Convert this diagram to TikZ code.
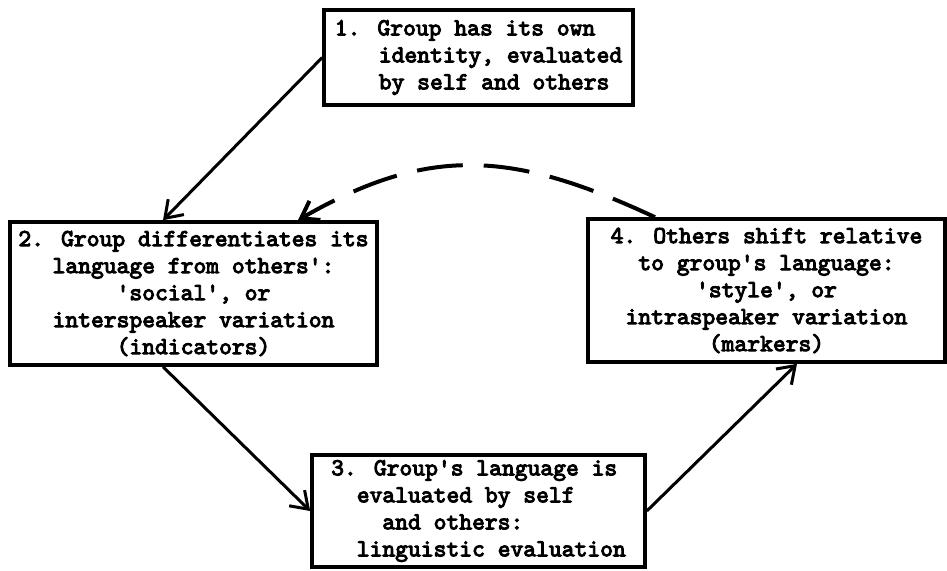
\documentclass[tikz,border=0pt]{standalone}
\usepackage{fontspec}
\usepackage{tikz}
\usetikzlibrary{arrows.meta}
\newfontfamily\typer{lmmono10-regular.otf}[FakeBold=4]
\tikzstyle{card} = [draw,line width=1.8pt,inner sep=0pt,font=\typer\fontsize{12.2}{13.5}\selectfont]
\tikzstyle{feedback} = [line width=2pt,dash pattern=on 23pt off 10.5pt]

\begin{document}
\begin{tikzpicture}[->,>={Straight Barb[length=8pt,width=11pt]},line width=1.5pt,x=1pt,y=1pt]
\useasboundingbox (0,0) rectangle (473.5,285);

\node[card,minimum width=154.5pt,minimum height=47.5pt,align=left] (G1) at (239.25,256.25)
  {1. Group has its own\\ \hspace*{22pt}identity, evaluated\\ \hspace*{22pt}by self and others};
\node[card,minimum width=183.5pt,minimum height=71.5pt,align=center] (G2) at (96.75,138.25)
  {2. Group differentiates its\\ language from others':\\ 'social', or\\ interspeaker variation\\ (indicators)};
\node[card,minimum width=166.5pt,minimum height=56pt,align=left] (G3) at (239.25,29.5)
  {3. Group's language is\\ \phantom{xx}evaluated by self\\ \phantom{xxxx}and others:\\ \phantom{xx}linguistic evaluation};
\node[card,minimum width=178.5pt,minimum height=71.5pt,align=center] (G4) at (383.25,139.75)
  {4. Others shift relative\\ to group's language:\\ 'style', or\\ intraspeaker variation\\ (markers)};

\path
    (G1.west)                 edge ([xshift=-15.25pt]G2.north)
    ([xshift=-15.25pt]G2.south) edge (G3.west)
    (G3.east)                 edge ([xshift=15.25pt]G4.south);
\path
    ([xshift=-55.75pt]G4.north) edge[feedback,out=155,in=30,looseness=1.1] ([xshift=52.25pt]G2.north);
\end{tikzpicture}
\end{document}
